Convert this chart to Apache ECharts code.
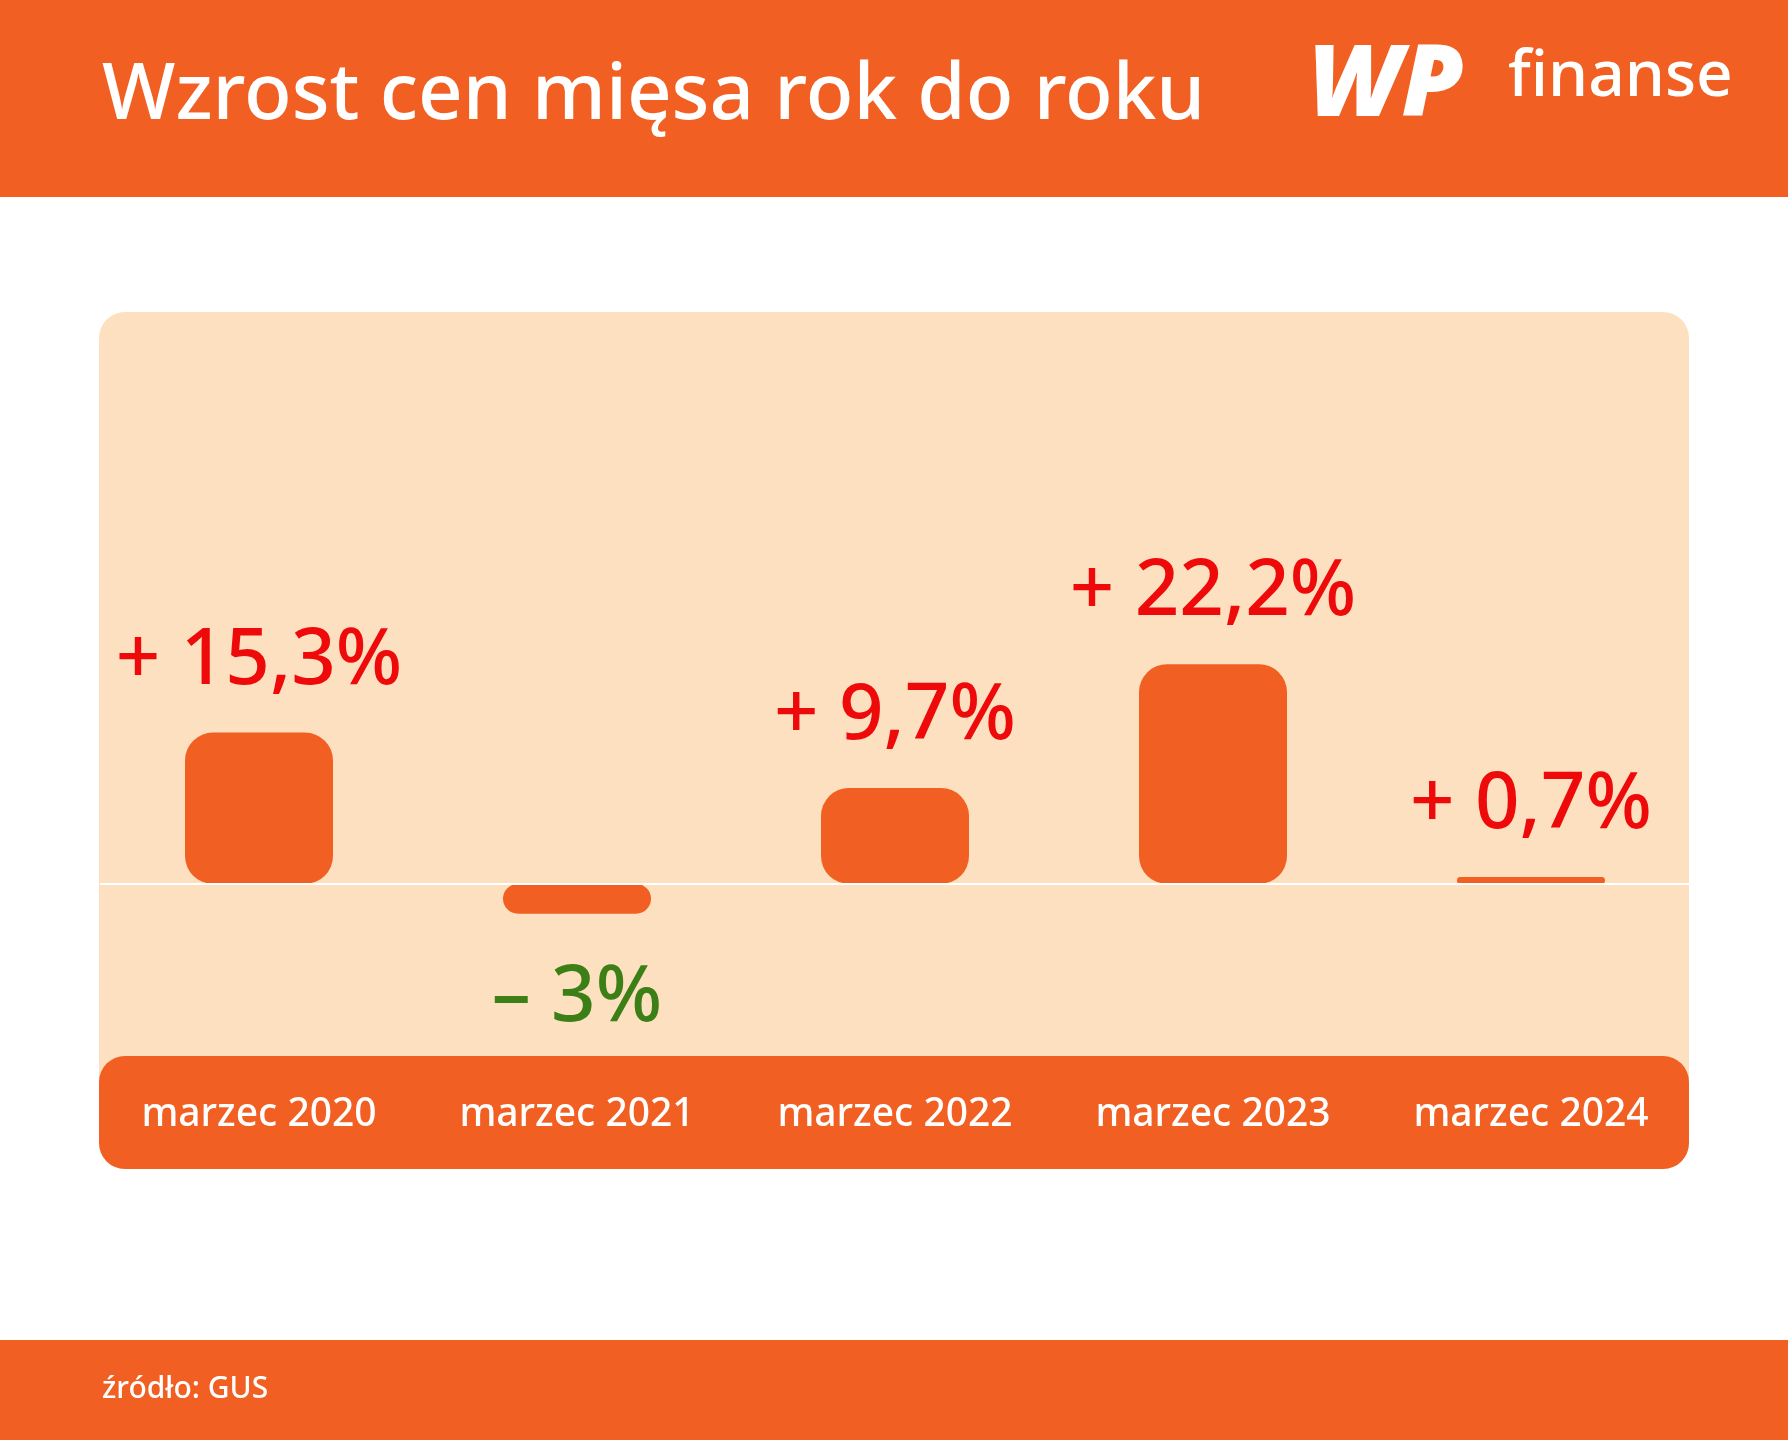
<!DOCTYPE html>
<html>
<head>
<meta charset="utf-8">
<script src="https://cdn.jsdelivr.net/npm/echarts@6/dist/echarts.min.js"></script>
<style>
  html, body { margin: 0; padding: 0; background: #fff; }
  #chart { width: 1788px; height: 1440px; }
</style>
</head>
<body>
<div id="chart"></div>
<script>
var categories = ['marzec 2020', 'marzec 2021', 'marzec 2022', 'marzec 2023', 'marzec 2024'];
var values = [15.3, -3, 9.7, 22.2, 0.7];

var ORANGE = '#f15f22';
var FONT = '"Noto Sans", sans-serif';

var chart = echarts.init(document.getElementById('chart'));

function fmt(v) {
  var s = String(Math.abs(v)).replace('.', ',');
  return (v < 0 ? '– ' : '+ ') + s + '%';
}

var data = values.map(function (v) {
  return {
    value: v,
    label: {
      position: v < 0 ? 'bottom' : 'top',
      distance: v < 0 ? 46 : 32,
      color: v < 0 ? '#3b7f16' : '#ee0a0a'
    }
  };
});

var option = {
  animation: false,
  graphic: [
    { type: 'rect', z: -10, shape: { x: 0, y: 0, width: 1788, height: 197 }, style: { fill: ORANGE } },
    { type: 'text', z: -5, left: 102, top: 58, style: { text: 'Wzrost cen mięsa rok do roku', fill: '#fff', font: '500 78px ' + FONT } },
    { type: 'text', z: -5, left: 1308, top: 38, style: { text: 'WP', fill: '#fff', font: 'italic 900 100px ' + FONT } },
    { type: 'text', z: -5, left: 1508, top: 46, style: { text: 'finanse', fill: '#fff', font: '500 64px ' + FONT } },
    { type: 'rect', z: -10, shape: { x: 99, y: 312, width: 1590, height: 857, r: 26 }, style: { fill: '#fde0bf' } },
    { type: 'rect', z: -9, shape: { x: 99, y: 1056, width: 1590, height: 113, r: 26 }, style: { fill: ORANGE } },
    { type: 'rect', z: -10, shape: { x: 0, y: 1340, width: 1788, height: 100 }, style: { fill: ORANGE } },
    { type: 'text', z: -5, left: 102, top: 1374, style: { text: 'źródło: GUS', fill: '#fff', font: '500 30px ' + FONT } }
  ],
  grid: { left: 100, right: 98, top: 587, bottom: 457 },
  xAxis: {
    type: 'category',
    data: categories,
    position: 'bottom',
    axisLine: { show: false },
    axisTick: { show: false },
    axisLabel: { margin: 112, color: '#fff', fontSize: 39, fontWeight: 500, fontFamily: FONT }
  },
  yAxis: {
    type: 'value',
    min: -10,
    max: 30,
    interval: 10,
    show: true,
    axisLabel: { show: false },
    axisLine: { show: false },
    axisTick: { show: false },
    splitLine: { show: false }
  },
  series: [{
    type: 'bar',
    data: data,
    barWidth: 148,
    itemStyle: { color: ORANGE, borderRadius: 28 },
    label: {
      show: true,
      fontSize: 78,
      fontWeight: 500,
      fontFamily: FONT,
      formatter: function (p) { return fmt(p.value); }
    },
    markLine: {
      silent: true,
      symbol: 'none',
      label: { show: false },
      lineStyle: { color: '#fff', width: 2, type: 'solid' },
      data: [{ yAxis: 0 }]
    }
  }]
};

chart.setOption(option);
</script>
</body>
</html>
